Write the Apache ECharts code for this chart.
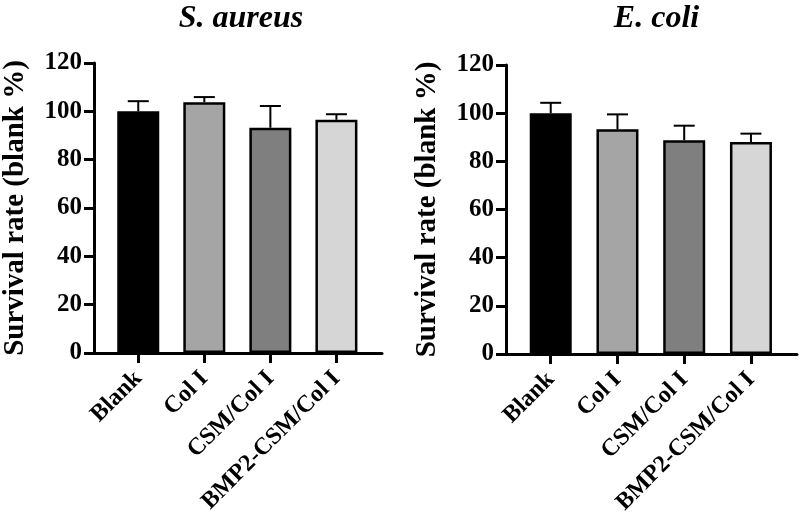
<!DOCTYPE html>
<html><head><meta charset="utf-8">
<script src="https://cdn.jsdelivr.net/npm/echarts@6/dist/echarts.min.js"></script>
<style>html,body{margin:0;padding:0;background:#fff}#c{width:800px;height:523px}</style>
</head><body><div id="c"></div>
<script>
const categories = ['Blank', 'Col I', 'CSM/Col I', 'BMP2-CSM/Col I'];
const titles = ['S. aureus', 'E. coli'];
const yTicks = [0, 20, 40, 60, 80, 100, 120];
const aureusMean = [100, 103.8, 93.2, 96.5];
const aureusUpper = [104.2, 105.9, 102.2, 98.8];
const coliMean = [100, 93.3, 88.8, 88.0];
const coliUpper = [104.3, 99.5, 94.8, 91.5];

const colors = ['#000000', '#a5a5a5', '#7f7f7f', '#d6d6d6'];
const FONT = 'Liberation Serif';
const chart = echarts.init(document.getElementById('c'));

const grids = [
  {left: 90, top: 63, width: 292, height: 290},
  {left: 506, top: 65, width: 291, height: 289}
];
const tickIdx = categories.map((c, i) => i);

function xAxis(gi) {
  return {
    type: 'value', gridIndex: gi, min: -0.67, max: 3.69,
    splitLine: {show: false},
    axisLine: {show: true, onZero: false, lineStyle: {color: '#000', width: 3}},
    axisTick: {show: true, customValues: tickIdx, length: 10, lineStyle: {color: '#000', width: 3}},
    axisLabel: {customValues: tickIdx, formatter: v => categories[Math.round(v)], rotate: 45,
      color: '#000', fontFamily: FONT, fontWeight: 'bold', fontSize: 24, margin: 22}
  };
}
function yAxis(gi) {
  return {
    type: 'value', gridIndex: gi, min: yTicks[0], max: yTicks[yTicks.length - 1], interval: 20,
    name: 'Survival rate (blank %)', nameLocation: 'middle', nameGap: 64,
    nameTextStyle: {color: '#000', fontFamily: FONT, fontWeight: 'bold', fontSize: 29},
    splitLine: {show: false},
    axisLine: {show: true, onZero: false, lineStyle: {color: '#000', width: 3}},
    axisTick: {show: true, length: 10, lineStyle: {color: '#000', width: 3}},
    axisLabel: {color: '#000', fontFamily: FONT, fontWeight: 'bold', fontSize: 25, margin: 12}
  };
}
function barSeries(gi, means) {
  return {
    type: 'bar', xAxisIndex: gi, yAxisIndex: gi, barWidth: 42,
    data: means.map((v, i) => ({value: [i, v], itemStyle: {color: colors[i]}})),
    itemStyle: {borderColor: '#000', borderWidth: 2.5},
    z: 2
  };
}
function errSeries(gi, means, upper) {
  return {
    type: 'custom', xAxisIndex: gi, yAxisIndex: gi, z: 1,
    data: means.map((v, i) => [i, v, upper[i]]),
    renderItem: function (params, api) {
      const p0 = api.coord([api.value(0), api.value(1)]);
      const p1 = api.coord([api.value(0), api.value(2)]);
      const hw = 10.5;
      return {type: 'group', children: [
        {type: 'line', shape: {x1: p0[0], y1: p0[1], x2: p1[0], y2: p1[1]}, style: {stroke: '#000', lineWidth: 2}},
        {type: 'line', shape: {x1: p1[0] - hw, y1: p1[1], x2: p1[0] + hw, y2: p1[1]}, style: {stroke: '#000', lineWidth: 2}}
      ]};
    }
  };
}

chart.setOption({
  animation: false,
  title: titles.map((t, i) => ({
    text: t, left: grids[i].left + grids[i].width / 2, top: -2, textAlign: 'center',
    textStyle: {fontFamily: FONT, fontStyle: 'italic', fontWeight: 'bold', fontSize: 32, color: '#000'}
  })),
  grid: grids,
  xAxis: [xAxis(0), xAxis(1)],
  yAxis: [yAxis(0), yAxis(1)],
  series: [
    barSeries(0, aureusMean), errSeries(0, aureusMean, aureusUpper),
    barSeries(1, coliMean), errSeries(1, coliMean, coliUpper)
  ]
});
</script></body></html>
